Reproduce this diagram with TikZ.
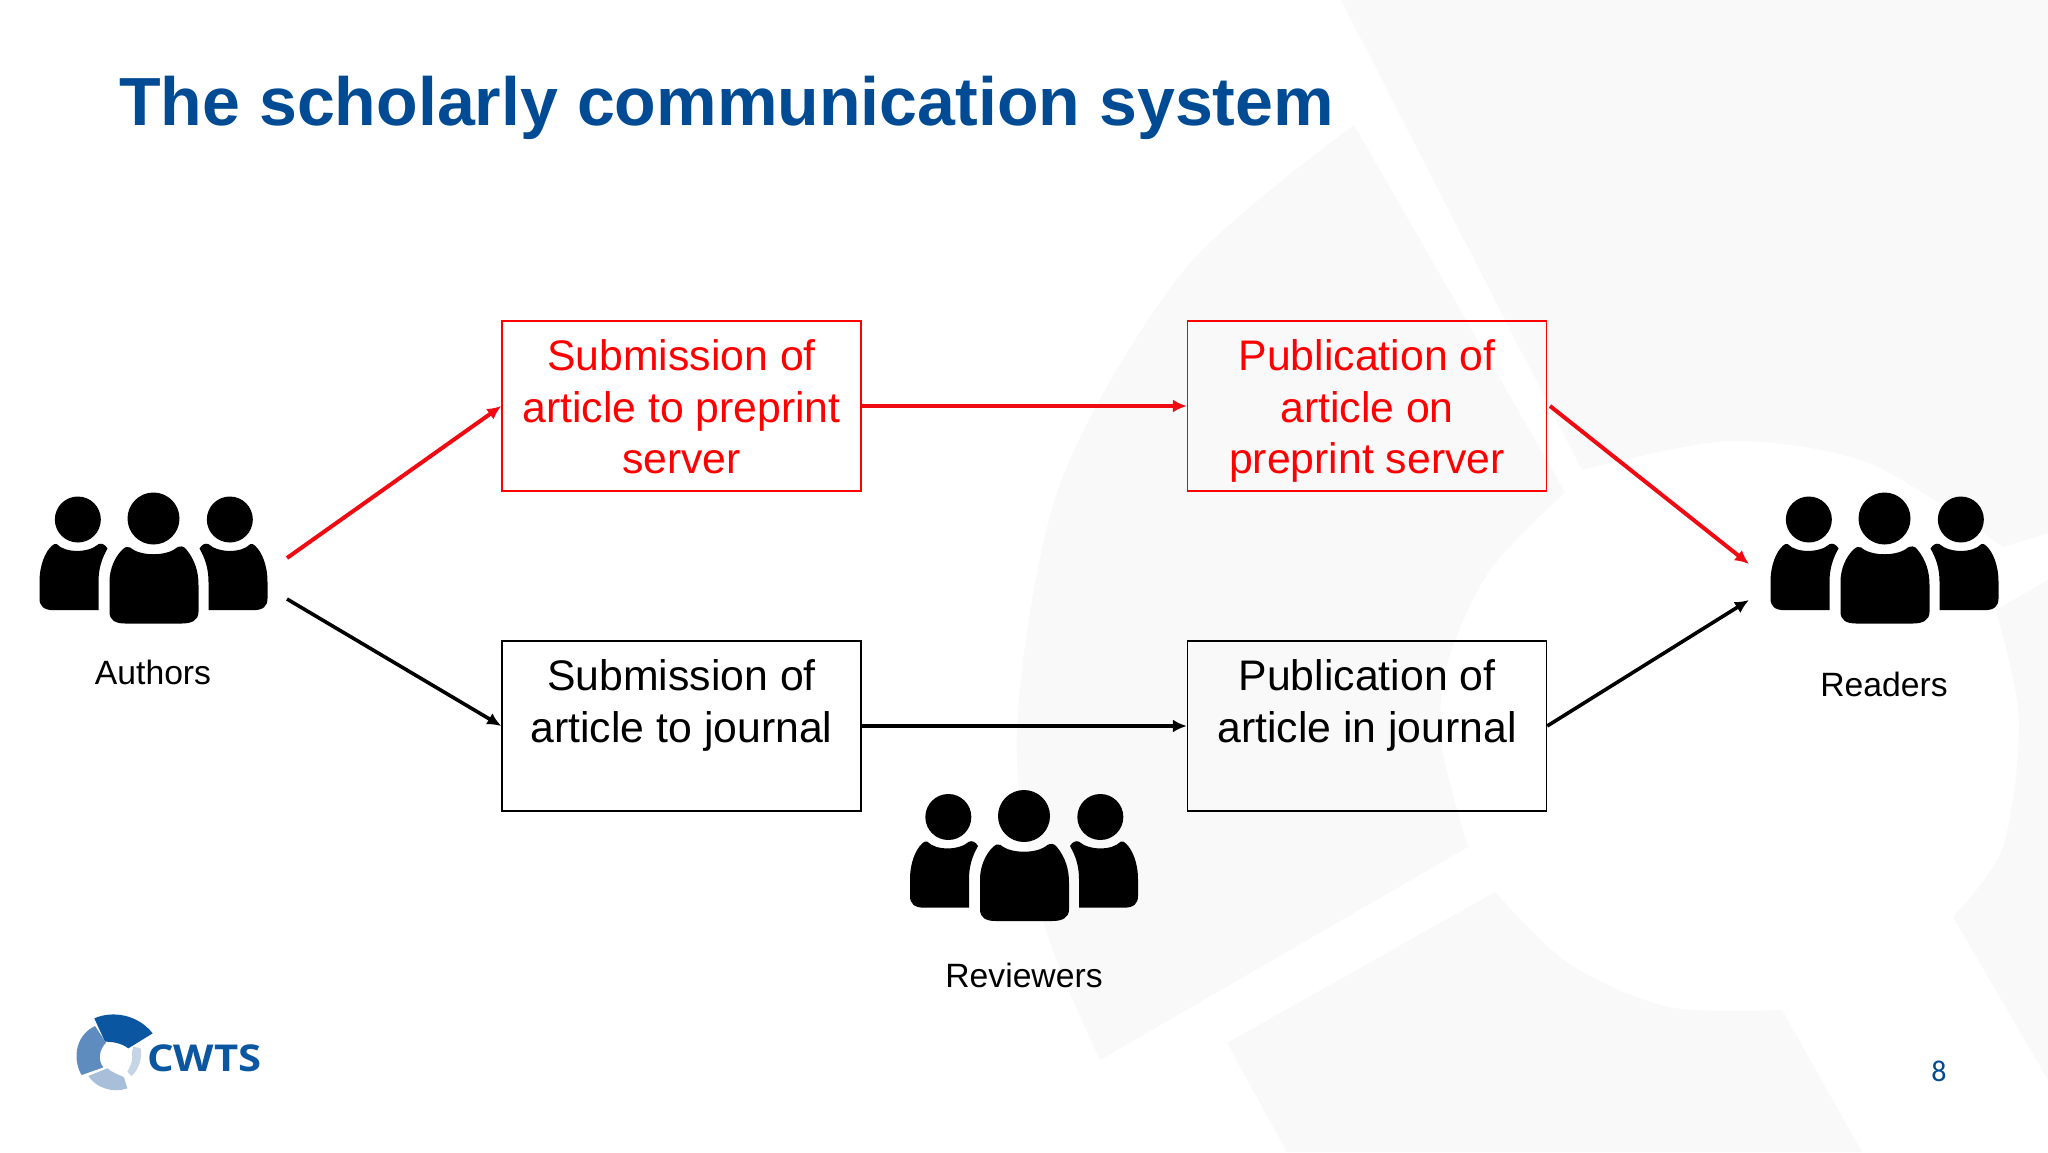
\documentclass[tikz,border=0pt]{standalone}
\usepackage{fontspec}
\setmainfont{Liberation Sans}
\newfontfamily\logofont[FakeStretch=1.13]{Open Sans}
\newfontfamily\numfont{Carlito}
\usetikzlibrary{arrows.meta}
\definecolor{titleblue}{HTML}{004B93}
\definecolor{wm}{HTML}{F9F9FA}
\definecolor{arrowred}{HTML}{F00A12}
\definecolor{pptred}{HTML}{FF0000}
\definecolor{logoA}{HTML}{0A56A0}
\definecolor{logoB}{HTML}{5E8CBE}
\definecolor{logoC}{HTML}{A8BFDA}
\definecolor{logoD}{HTML}{C6D5E6}
\newcommand{\firstline}{\rule{0pt}{32.5pt}}
\tikzset{
  stagebox/.style={draw,line width=1.4pt,fill=none,minimum width=359pt,minimum height=170pt,inner sep=0pt,align=center,font=\fontsize{42.75}{51.6}\selectfont},
  redstage/.style={stagebox,draw=pptred,text=pptred},
  blackstage/.style={stagebox,draw=black,text=black},
  link/.style={line width=3.6pt,-{Latex[length=14pt,width=13pt]},shorten >=0pt},
  redlink/.style={link,draw=arrowred,line width=4pt},
  blacklink/.style={link,draw=black},
  grouplabel/.style={font=\fontsize{33.7}{40}\selectfont,text=black,inner sep=0pt},
  people/.pic={
    \begin{scope}[scale=1/3]
      \fill (0,0) circle (78);
      \fill (-70,87) .. controls (-40,114) and (40,114) .. (70,87)
        .. controls (80,82) and (90,82) .. (98,92)
        .. controls (125,125) and (135,160) .. (135,200) -- (135,280)
        .. controls (135,305) and (115,315) .. (85,315) -- (-85,315)
        .. controls (-115,315) and (-132,305) .. (-132,280) -- (-132,190)
        .. controls (-132,150) and (-115,115) .. (-95,95)
        .. controls (-85,85) and (-78,82) .. (-70,87) -- cycle;
      \foreach \s/\h in {1/227,-1/229}{
        \begin{scope}[xscale=\s]
          \fill (-\h,3) circle (69);
          \fill (-290,77) .. controls (-265,104) and (-195,104) .. (-165,77)
            .. controls (-155,73) and (-145,78) .. (-138,90)
            .. controls (-155,120) and (-165,150) .. (-165,190) -- (-165,275) -- (-300,275)
            .. controls (-330,275) and (-342,262) .. (-342,240) -- (-342,190)
            .. controls (-342,140) and (-325,100) .. (-305,82)
            .. controls (-300,77) and (-295,74) .. (-290,77) -- cycle;
        \end{scope}
      }
    \end{scope}
  }
}
\begin{document}
\begin{tikzpicture}[x=1pt,y=-1pt]
\useasboundingbox (0,0) rectangle (2048,1152);
\fill[white] (0,0) rectangle (2048,1152);
% watermark
\fill[wm] (1341,0) -- (2048,0) -- (2048,533) -- (2003,547)
  -- plot[smooth] coordinates {(2003,547) (1869,463) (1729,441) (1582,470)} -- cycle;
\fill[wm] (1354,125) -- (1565,492)
  -- plot[smooth] coordinates {(1565,492) (1490,570) (1448,661) (1441,742) (1468,847)}
  -- (1100,1060)
  -- plot[smooth] coordinates {(1100,1060) (1041,914) (1017,729) (1060,484) (1185,269) (1354,125)} -- cycle;
\fill[wm] (1495,892) -- (1227,1043) -- (1287,1152) -- (1862,1152) -- (1782,1010)
  -- plot[smooth] coordinates {(1782,1010) (1668,1007) (1568,963) (1495,892)} -- cycle;
\fill[wm] (2048,580) -- (1996,610)
  -- plot[smooth] coordinates {(1996,610) (2019,720) (2003,847) (1953,917)}
  -- (2048,1080) -- cycle;
% title
\node[anchor=base west,inner sep=0pt,text=titleblue,font=\fontsize{68.1}{80}\selectfont\bfseries] (title) at (119,125) {The scholarly communication system};
% boxes
\node[redstage] (subpre) at (681.5,406) {\firstline Submission of\\article to preprint\\server};
\node[redstage] (pubpre) at (1367,406) {\firstline Publication of\\article on\\\smash{preprint server}};
\node[blackstage] (subj) at (681.5,726) {\firstline Submission of\\article to journal\\\mbox{}};
\node[blackstage] (pubj) at (1367,726) {\firstline Publication of\\article in journal\\\mbox{}};
% people
\pic at (153.5,518.5) {people};
\pic at (1884.5,518.5) {people};
\pic at (1024,816) {people};
\node[grouplabel] (authors) at (153,672) {Authors};
\node[grouplabel] (readers) at (1884,684) {Readers};
\node[grouplabel] (reviewers) at (1024,975) {Reviewers};
% connector ends
\coordinate (authA) at (287,558);
\coordinate (authB) at (287,599);
\coordinate (readA) at (1749,564);
\coordinate (readB) at (1749,600);
\coordinate (pubpreOut) at (1550,406);
\draw[redlink] (authA) -- (subpre.west);
\draw[redlink] (subpre.east) -- (pubpre.west);
\draw[redlink] (pubpreOut) -- (readA);
\draw[blacklink] (authB) -- (subj.west);
\draw[blacklink] (subj.east) -- (pubj.west);
\draw[blacklink] (pubj.east) -- (readB);
% logo
\begin{scope}[shift={(50,990)},x=1/3*1pt,y=-1/3*1pt]
  \fill[logoA] (133,85) .. controls (190,60) and (265,75) .. (308,130) -- (235,175) .. controls (215,160) and (190,155) .. (165,155) -- cycle;
  \fill[logoB] (135,108) -- (168,158) .. controls (145,180) and (145,215) .. (160,232) -- (95,255) .. controls (70,215) and (70,140) .. (135,108) -- cycle;
  \fill[logoC] (115,258) -- (172,235) .. controls (190,250) and (210,255) .. (222,262) -- (232,295) .. controls (190,310) and (140,295) .. (115,258) -- cycle;
  \fill[logoD] (250,170) -- (272,175) .. controls (278,205) and (265,240) .. (245,258) -- (232,245) .. controls (245,225) and (250,200) .. (245,190) -- cycle;
\end{scope}
\node[anchor=base west,inner sep=0pt,text=logoA,font=\logofont\fontsize{37}{40}\selectfont\bfseries] (cwts) at (147,1071) {CWTS};
% page number
\node[text=titleblue,inner sep=0pt,font=\numfont\fontsize{30}{32}\selectfont] (pagenum) at (1939,1071) {8};
\end{tikzpicture}
\end{document}
